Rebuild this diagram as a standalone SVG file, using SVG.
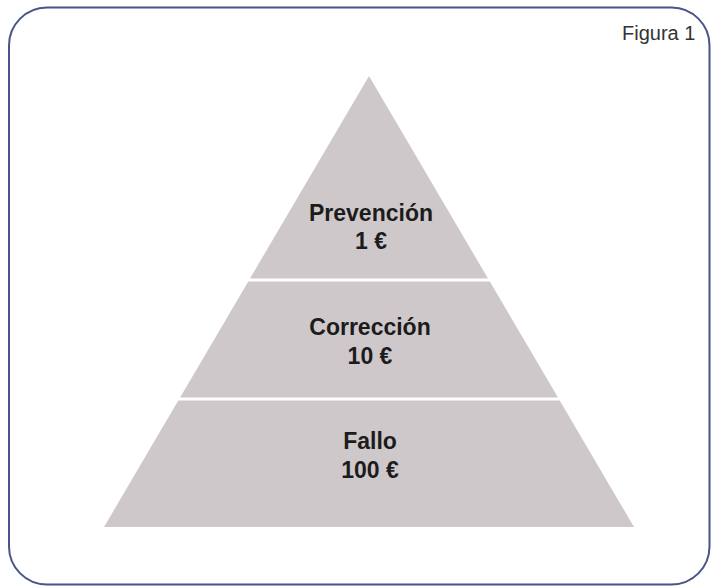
<svg xmlns="http://www.w3.org/2000/svg" width="712" height="587" viewBox="0 0 712 587">
<style>
.tier{fill:#cfc8ca;}
.lbl{font-family:"Liberation Sans",Arial,sans-serif;font-weight:bold;font-size:23px;fill:#1c1c1c;text-anchor:middle;}
.fig{font-family:"Liberation Sans",Arial,sans-serif;font-size:20px;fill:#333;}
</style>
<rect width="712" height="587" fill="#ffffff"/>
<rect id="frame" x="9" y="7.5" width="700.5" height="577" rx="38" ry="38" fill="none" stroke="#4a5488" stroke-width="2"/>
<text class="fig" x="622" y="40">Figura 1</text>
<g id="connectors"></g>
<g id="prevencion">
<polygon class="tier" points="369,76 488,278.5 250,278.5"/>
<text class="lbl" x="371" y="221">Prevención</text>
<text class="lbl" x="371" y="249">1 €</text>
</g>
<g id="correccion">
<polygon class="tier" points="248.3,281.5 489.8,281.5 558,397.5 180.1,397.5"/>
<text class="lbl" x="370" y="335">Corrección</text>
<text class="lbl" x="370" y="364">10 €</text>
</g>
<g id="fallo">
<polygon class="tier" points="178.3,400.5 559.7,400.5 634,527 104,527"/>
<text class="lbl" x="370" y="449">Fallo</text>
<text class="lbl" x="370" y="478">100 €</text>
</g>
</svg>
